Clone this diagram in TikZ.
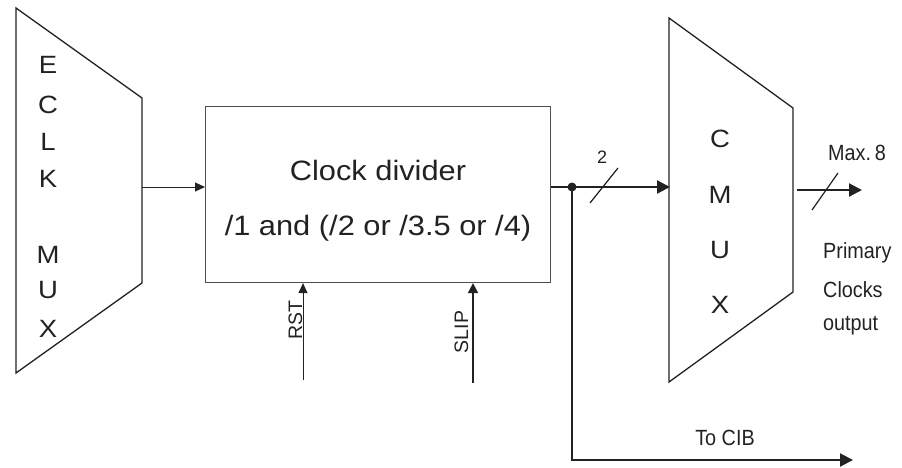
\documentclass[tikz,border=0pt]{standalone}
\usepackage{fontspec}
\setmainfont{Liberation Sans}
\newfontfamily\bigf{Liberation Sans}[FakeStretch=1.1]
\newfontfamily\smallf{Liberation Sans}[FakeStretch=0.9]
\usetikzlibrary{arrows.meta}
\definecolor{ink}{HTML}{222222}
\tikzset{
  mux/.style={draw=ink, line width=1.3pt, line join=miter},
  divbox/.style={draw=ink!80, line width=1.1pt, anchor=north west, minimum width=345pt, minimum height=176pt, inner sep=0pt},
  thinarrow/.style={draw=ink, line width=1pt, -{Triangle[length=10pt,width=9pt]}},
  sigarrow/.style={draw=ink, line width=1.6pt, -{Triangle[length=10pt,width=10pt]}},
  busline/.style={draw=ink, line width=2.2pt},
  busarrow/.style={busline, -{Triangle[length=13pt,width=13pt]}},
  slash/.style={draw=ink, line width=1.2pt},
  tapdot/.style={circle, fill=ink, inner sep=0pt, minimum size=9pt},
  muxletter/.style={text=ink, anchor=base, inner sep=0pt, font=\bigf\fontsize{25}{30}\selectfont},
  boxtext/.style={text=ink, anchor=base, inner sep=0pt, font=\bigf\fontsize{28}{34}\selectfont},
  smalllabel/.style={text=ink, inner sep=0pt, font=\smallf\fontsize{22}{26}\selectfont},
  siglabel/.style={text=ink, inner sep=0pt, rotate=90, anchor=base, font=\fontsize{19.5}{23}\selectfont},
}
\begin{document}
\begin{tikzpicture}[x=1pt,y=-1pt]
\useasboundingbox (0,0) rectangle (902,467);

% ECLK MUX
\coordinate (e1) at (16,8);
\coordinate (e2) at (142,98);
\coordinate (e3) at (142,283);
\coordinate (e4) at (16,373);
\draw[mux] (e1) -- (e2) -- (e3) -- (e4) -- cycle;
\node[muxletter] (eE) at (48,73) {E};
\node[muxletter] (eC) at (48,113) {C};
\node[muxletter] (eL) at (48,150) {L};
\node[muxletter] (eK) at (48,187) {K};
\node[muxletter] (eM) at (48,263) {M};
\node[muxletter] (eU) at (48,298) {U};
\node[muxletter] (eX) at (48,337) {X};

% Clock divider
\node[divbox] (div) at (205,106) {};
\node[boxtext] (t1) at (378,180) {Clock divider};
\node[boxtext] (t2) at (378,235) {/1 and (/2 or /3.5 or /4)};

% ECLK -> divider
\coordinate (eout) at (142,187);
\draw[thinarrow] (eout) -- (div.west |- eout);

% RST / SLIP
\coordinate (rst) at (303,380);
\coordinate (slip) at (473,383);
\draw[thinarrow] (rst) -- (rst |- div.south);
\draw[sigarrow] (slip) -- (slip |- div.south);
\node[siglabel] (rstl) at (302,320) {RST};
\node[siglabel] (slipl) at (468,332) {SLIP};

% CMUX
\coordinate (c1) at (669,18);
\coordinate (c2) at (793,108);
\coordinate (c3) at (793,292);
\coordinate (c4) at (669,382);
\draw[mux] (c1) -- (c2) -- (c3) -- (c4) -- cycle;
\node[muxletter] (cC) at (720,147) {C};
\node[muxletter] (cM) at (720,203) {M};
\node[muxletter] (cU) at (720,258) {U};
\node[muxletter] (cX) at (720,313) {X};

% bus divider -> CMUX
\coordinate (tap) at (572,187);
\coordinate (cin) at (670,187);
\draw[busarrow] (div.east |- tap) -- (cin);
\node[tapdot] (dot) at (tap) {};
\coordinate (s1a) at (590,203);
\coordinate (s1b) at (618,168);
\draw[slash] (s1a) -- (s1b);
\node[text=ink, anchor=base, inner sep=0pt, font=\fontsize{18}{22}\selectfont] (two) at (602,163) {2};

% to CIB
\coordinate (cibc) at (572,460);
\coordinate (cibend) at (853,460);
\draw[busarrow] (dot.center) -- (cibc) -- (cibend);
\node[smalllabel, anchor=base, font=\smallf\fontsize{22}{26}\selectfont] (cib) at (725,445) {To CIB};

% CMUX output
\coordinate (cout) at (797,190);
\coordinate (oend) at (862,190);
\draw[busarrow] (cout) -- (oend);
\coordinate (s2a) at (812,210);
\coordinate (s2b) at (838,173);
\draw[slash] (s2a) -- (s2b);
\node[smalllabel, anchor=base] (max) at (857,160) {Max.\,8};
\node[smalllabel, anchor=base west] (p1) at (823,258) {Primary};
\node[smalllabel, anchor=base west] (p2) at (823,297) {Clocks};
\node[smalllabel, anchor=base west] (p3) at (823,330) {output};
\end{tikzpicture}
\end{document}
